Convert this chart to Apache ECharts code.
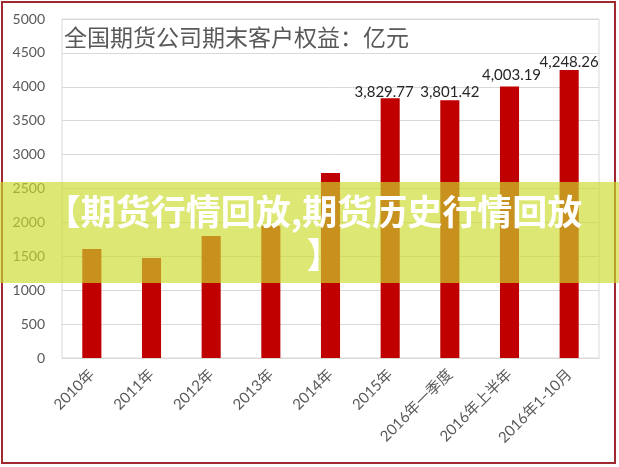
<!DOCTYPE html>
<html>
<head>
<meta charset="utf-8">
<script src="https://cdn.jsdelivr.net/npm/echarts@6/dist/echarts.min.js"></script>
<style>
  html, body { margin: 0; padding: 0; background: #fff; }
  #main { width: 619px; height: 467px; }
</style>
</head>
<body>
<div id="main"></div>
<script>
// 分类
const categories = ['2010年', '2011年', '2012年', '2013年', '2014年', '2015年', '2016年一季度', '2016年上半年', '2016年1-10月']
// 期末客户权益（亿元）
const equity = [1608, 1475, 1800, 1950, 2729, 3829.77, 3801.42, 4003.19, 4248.26]
// 只有后四个柱子显示数值
const labelled = [false, false, false, false, false, true, true, true, true]
const labelOffsets = [null, null, null, null, null, [-6, 6], [0, 4], [2, 1.5], [0, 5]]

const fmt = v => v.toLocaleString('en-US', { minimumFractionDigits: 2, maximumFractionDigits: 2 })

const seriesData = equity.map((v, i) => ({
  value: v,
  label: labelled[i]
    ? { show: true, position: 'top', distance: 5, offset: labelOffsets[i] }
    : { show: false }
}))

const bannerText = {
  fontFamily: '"Noto Sans CJK SC"',
  fontWeight: 'bold',
  fontSize: 35,
  fill: '#ffffff',
  align: 'center',
  verticalAlign: 'middle'
}

const myChart = echarts.init(document.getElementById('main'))
myChart.setOption({
  animation: false,
  title: {
    text: '全国期货公司期末客户权益：亿元',
    left: 64,
    top: 26,
    padding: 0,
    textStyle: {
      fontFamily: '"Noto Sans CJK SC"',
      fontWeight: 'normal',
      fontSize: 23,
      color: '#595959'
    }
  },
  grid: {
    left: 62, right: 20, top: 19, bottom: 109,
    show: true,
    borderColor: '#d9d9d9',
    borderWidth: 1
  },
  xAxis: {
    type: 'category',
    data: categories,
    axisLine: { lineStyle: { color: '#d9d9d9' } },
    axisTick: { show: false },
    axisLabel: {
      rotate: 45,
      interval: 0,
      margin: 14,
      fontFamily: 'Lato, "Noto Sans CJK SC"',
      fontSize: 15,
      color: '#595959'
    }
  },
  yAxis: {
    type: 'value',
    min: 0,
    max: 5000,
    interval: 500,
    axisLine: { show: false },
    axisTick: { show: false },
    splitLine: { lineStyle: { color: '#d9d9d9' } },
    axisLabel: {
      margin: 17,
      formatter: v => String(v),
      fontFamily: 'Lato, "Noto Sans CJK SC"',
      fontSize: 14,
      color: '#595959'
    }
  },
  series: [{
    type: 'bar',
    data: seriesData,
    barWidth: '32%',
    itemStyle: { color: '#c00000' },
    label: {
      formatter: p => fmt(p.value),
      fontFamily: 'Lato, "Liberation Sans"',
      fontSize: 15,
      color: '#262626'
    }
  }],
  graphic: [
    {
      type: 'rect',
      z: 100,
      shape: { x: 2, y: 2, width: 613, height: 461 },
      style: { fill: 'none', stroke: '#9e2a2f', lineWidth: 2 }
    },
    {
      type: 'rect',
      z: 110,
      shape: { x: 0, y: 182, width: 619, height: 101 },
      style: { fill: 'rgba(203, 218, 44, 0.66)' }
    },
    {
      type: 'text',
      z: 120,
      x: 314,
      y: 212,
      style: Object.assign({ text: '【期货行情回放,期货历史行情回放' }, bannerText)
    },
    {
      type: 'text',
      z: 120,
      x: 324,
      y: 255,
      style: Object.assign({ text: '】' }, bannerText)
    }
  ]
})
</script>
</body>
</html>
